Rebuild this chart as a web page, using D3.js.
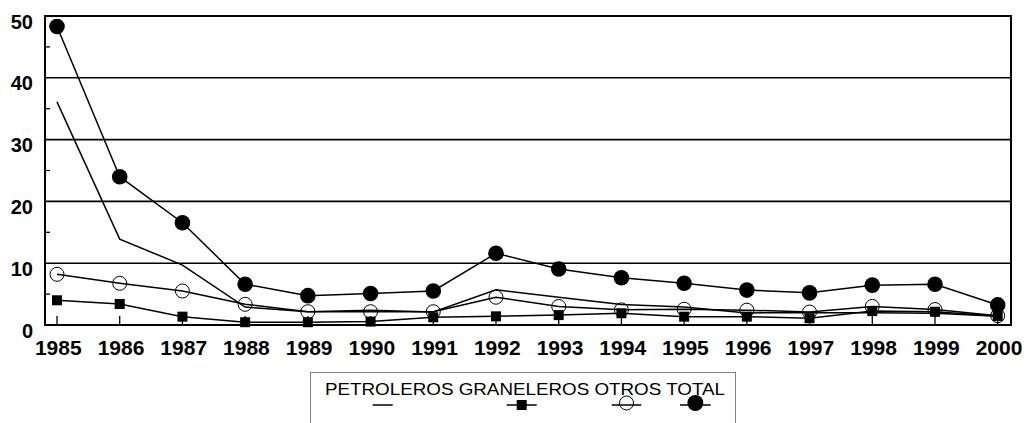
<!DOCTYPE html>
<html>
<head>
<meta charset="utf-8">
<script src="https://cdn.jsdelivr.net/npm/d3@7"></script>
<style>
  html, body { margin: 0; padding: 0; background: #fff; }
  svg { display: block; font-family: Arial, 'Liberation Sans', sans-serif; }
</style>
</head>
<body>
<div id="chart"></div>
<script>
// values
const years = ['1985', '1986', '1987', '1988', '1989', '1990', '1991', '1992',
  '1993', '1994', '1995', '1996', '1997', '1998', '1999', '2000'];
const petroleros = [36.1, 13.9, 9.7, 2.9, 2.15, 2.4, 2.1, 5.7, 4.5, 3.3, 2.9, 1.95, 2.0, 2.0, 1.9, 1.4];
const graneleros = [4.0, 3.4, 1.35, 0.45, 0.45, 0.55, 1.25, 1.4, 1.6, 1.9, 1.35, 1.35, 1.1, 2.25, 2.15, 1.45];
const otros = [8.2, 6.75, 5.5, 3.35, 2.15, 2.15, 2.15, 4.5, 3.0, 2.45, 2.55, 2.4, 2.1, 3.0, 2.5, 1.5];
const total = [48.3, 24.0, 16.55, 6.6, 4.75, 5.1, 5.5, 11.6, 9.05, 7.65, 6.75, 5.65, 5.2, 6.45, 6.6, 3.25];
const yTicks = [0, 10, 20, 30, 40, 50];
const yMinor = [5, 15, 25, 35, 45];
const seriesNames = ['PETROLEROS', 'GRANELEROS', 'OTROS', 'TOTAL'];

const width = 1029;
const height = 423;
const plot = { left: 45, top: 16, right: 1011, bottom: 325 };

const svg = d3.select('#chart')
  .append('svg')
  .attr('width', width)
  .attr('height', height);

const x = d3.scalePoint()
  .domain(years)
  .range([57, 997.7]);

const y = d3.scaleLinear()
  .domain([0, 50])
  .range([plot.bottom, plot.top]);

// gridlines
svg.append('g')
  .selectAll('line')
  .data(yTicks.filter((d) => d > 0 && d < 50))
  .enter()
  .append('line')
  .attr('x1', plot.left)
  .attr('x2', plot.right)
  .attr('y1', (d) => y(d))
  .attr('y2', (d) => y(d))
  .attr('stroke', '#000')
  .attr('stroke-width', 1.6);

// frame
svg.append('rect')
  .attr('x', plot.left)
  .attr('y', plot.top)
  .attr('width', plot.right - plot.left)
  .attr('height', plot.bottom - plot.top)
  .attr('fill', 'none')
  .attr('stroke', '#000')
  .attr('stroke-width', 2);

// minor ticks on the left axis (inside)
svg.append('g')
  .selectAll('line')
  .data(yMinor)
  .enter()
  .append('line')
  .attr('x1', plot.left)
  .attr('x2', plot.left + 5)
  .attr('y1', (d) => y(d))
  .attr('y2', (d) => y(d))
  .attr('stroke', '#000')
  .attr('stroke-width', 1.3);

// y labels
svg.append('g')
  .selectAll('text')
  .data(yTicks)
  .enter()
  .append('text')
  .attr('x', 33)
  .attr('y', (d) => y(d) + 12.5)
  .attr('text-anchor', 'end')
  .style('font-size', '20px')
  .style('font-weight', 'bold')
  .text((d) => d);

// x ticks (inside, pointing up) and labels
const xAxis = svg.append('g');
xAxis.selectAll('line')
  .data(years)
  .enter()
  .append('line')
  .attr('x1', (d) => x(d))
  .attr('x2', (d) => x(d))
  .attr('y1', plot.bottom - 9)
  .attr('y2', plot.bottom)
  .attr('stroke', '#000')
  .attr('stroke-width', 1.3);

xAxis.selectAll('text')
  .data(years)
  .enter()
  .append('text')
  .attr('x', (d) => x(d) + 1.3)
  .attr('y', 355)
  .attr('text-anchor', 'middle')
  .style('font-size', '21px')
  .style('font-weight', 'bold')
  .text((d) => d);

const line = d3.line()
  .x((d, i) => x(years[i]))
  .y((d) => y(d));

function drawLine(values) {
  svg.append('path')
    .datum(values)
    .attr('d', line)
    .attr('fill', 'none')
    .attr('stroke', '#000')
    .attr('stroke-width', 1.5);
}

// petroleros: line only
drawLine(petroleros);

// otros: open circles
drawLine(otros);
svg.append('g')
  .selectAll('circle')
  .data(otros)
  .enter()
  .append('circle')
  .attr('cx', (d, i) => x(years[i]))
  .attr('cy', (d) => y(d))
  .attr('r', 7)
  .attr('fill', 'none')
  .attr('stroke', '#000')
  .attr('stroke-width', 1);

// graneleros: filled squares
drawLine(graneleros);
svg.append('g')
  .selectAll('rect')
  .data(graneleros)
  .enter()
  .append('rect')
  .attr('x', (d, i) => x(years[i]) - 5)
  .attr('y', (d) => y(d) - 5)
  .attr('width', 10)
  .attr('height', 10)
  .attr('fill', '#000');

// total: filled circles
drawLine(total);
svg.append('g')
  .selectAll('circle')
  .data(total)
  .enter()
  .append('circle')
  .attr('cx', (d, i) => x(years[i]))
  .attr('cy', (d) => y(d))
  .attr('r', 7.8)
  .attr('fill', '#000');

// legend
const legend = svg.append('g');
legend.append('rect')
  .attr('x', 310.5)
  .attr('y', 372.5)
  .attr('width', 425)
  .attr('height', 70)
  .attr('fill', '#fff')
  .attr('stroke', '#808080')
  .attr('stroke-width', 1);

const legendText = legend.append('text')
  .attr('x', 325)
  .attr('y', 395)
  .style('font-size', '17px')
  .text(seriesNames.join(' '));

// fit the text span to the reference width
const tl = legendText.node().getComputedTextLength();
if (Math.abs(tl - 400) > 4) {
  legendText.attr('textLength', 400).attr('lengthAdjust', 'spacingAndGlyphs');
}

const legY = 405;
const symbols = [
  { x1: 372.7, x2: 392.7, mark: 'none' },
  { x1: 506.7, x2: 536.7, mark: 'square' },
  { x1: 611.7, x2: 641.3, mark: 'open' },
  { x1: 680, x2: 710.7, mark: 'dot' },
];

symbols.forEach((s) => {
  legend.append('line')
    .attr('x1', s.x1)
    .attr('x2', s.x2)
    .attr('y1', legY)
    .attr('y2', legY)
    .attr('stroke', '#000')
    .attr('stroke-width', 1.5);
  const cx = (s.x1 + s.x2) / 2;
  if (s.mark === 'square') {
    legend.append('rect')
      .attr('x', cx - 5)
      .attr('y', legY - 5)
      .attr('width', 10)
      .attr('height', 10)
      .attr('fill', '#000');
  } else if (s.mark === 'open') {
    legend.append('circle')
      .attr('cx', cx)
      .attr('cy', legY - 2)
      .attr('r', 7)
      .attr('fill', 'none')
      .attr('stroke', '#000');
  } else if (s.mark === 'dot') {
    legend.append('circle')
      .attr('cx', cx)
      .attr('cy', legY - 2)
      .attr('r', 8)
      .attr('fill', '#000');
  }
});
</script>
</body>
</html>
